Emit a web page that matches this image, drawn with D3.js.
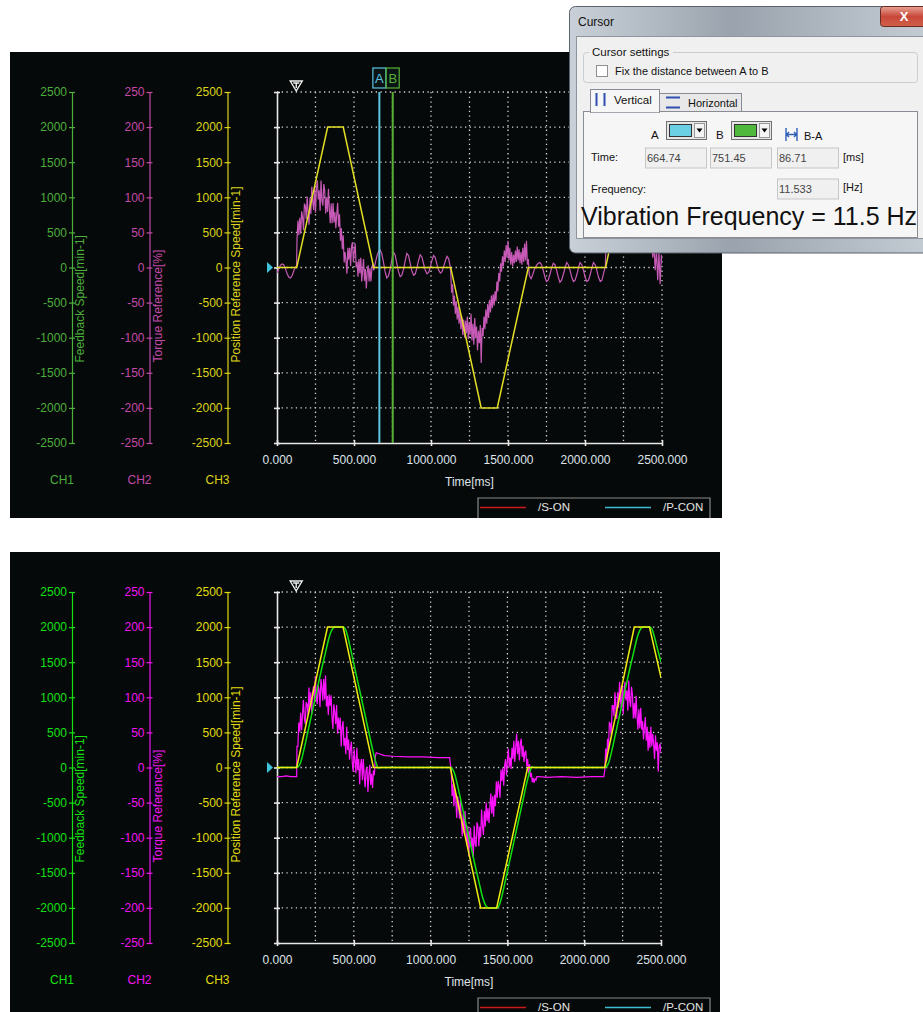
<!DOCTYPE html>
<html>
<head>
<meta charset="utf-8">
<script src="https://cdn.jsdelivr.net/npm/d3@7"></script>
<style>
  body { margin: 0; background: #fff; }
  svg { display: block; }
</style>
</head>
<body>
<div id="chart"></div>
<script>
const width = 923, height = 1012;
const font = "Arial, 'Liberation Sans', sans-serif";

// axes / labels
const timeTicks = [0, 500, 1000, 1500, 2000, 2500];
const timeGrid = [250, 500, 750, 1000, 1250, 1500, 1750, 2000, 2250, 2500];
const speedTicks = [-2500, -2000, -1500, -1000, -500, 0, 500, 1000, 1500, 2000, 2500];
const torqueTicks = [-250, -200, -150, -100, -50, 0, 50, 100, 150, 200, 250];
const channelNames = ["CH1", "CH2", "CH3"];
const channelTitles = ["Feedback Speed[min-1]", "Torque Reference[%]", "Position Reference Speed[min-1]"];
const legendNames = ["/S-ON", "/P-CON"];

// position reference speed (both captures)
const refTime  = [0, 128, 329, 430, 628, 1128, 1326, 1430, 1632, 2134, 2326, 2425, 2500];
const refSpeed = [0, 0, 2000, 2000, 0, 0, -2000, -2000, 0, 0, 2000, 2000, 1280];

// feedback speed (second capture only)
const fbTime  = [0, 128, 140, 155, 175, 200, 230, 260, 290, 320, 340, 355, 370, 385, 432, 445, 460, 480, 510, 540, 570, 600, 625, 640, 652, 660, 672,
  1128, 1140, 1155, 1175, 1200, 1230, 1260, 1290, 1320, 1340, 1355, 1370, 1385, 1432, 1445, 1460, 1480, 1510, 1540, 1570, 1600, 1625, 1640, 1652, 1660, 1672,
  2134, 2146, 2161, 2181, 2206, 2236, 2266, 2296, 2326, 2346, 2361, 2376, 2391, 2428, 2441, 2456, 2476, 2500];
const fbSpeed = [0, 0, 15, 80, 250, 500, 800, 1100, 1400, 1680, 1860, 1950, 1995, 2000, 2000, 1970, 1870, 1680, 1380, 1080, 780, 480, 230, 100, 20, -10, 0,
  0, -15, -80, -250, -500, -800, -1100, -1400, -1680, -1860, -1950, -1995, -2000, -2000, -1970, -1870, -1680, -1380, -1080, -780, -480, -230, -100, -20, 10, 0,
  0, 15, 80, 250, 500, 800, 1100, 1400, 1680, 1860, 1950, 1995, 2000, 2000, 1970, 1870, 1700, 1500];

// torque reference, first capture (with 11.5 Hz vibration)
const torqueTopPre = [[0, -8], [11, -2], [22, 3], [33, 5], [44, 4], [55, -2], [66, -9], [77, -14], [88, -15], [99, -11], [110, -4], [121, 1], [127, 2]];
const torqueTopBurst1 = [41, 67, 46, 71, 48, 80, 72, 53, 91, 88, 69, 101, 79, 61, 99, 76, 115, 93, 82, 116, 78, 114, 124, 97, 110, 81, 124, 95, 88, 119,
  110, 77, 100, 79, 112, 83, 63, 91, 63, 92, 64, 79, 56, 76, 92, 58, 76, 38, 56, 26, 46, 7, 22, 10, -9, 28, 11, 28, 2, 30,
  36, 8, 23, 34, 0, 8, -13, 12, -8, 14, -20, -4, 12, -19, -2, -30, -6, 3, -20, -1, -20, -2, 6];
const torqueTopOsc1 = [[628, -4], [640, 8], [651, 18], [662, 24], [669, 25], [680, 20], [691, 8], [702, -6], [713, -15], [724, -12], [735, -2], [745, 10],
  [756, 22], [767, 18], [778, 6], [789, -6], [800, -13], [811, -11], [822, -2], [832, 9], [843, 20], [854, 17], [865, 6], [876, -5], [887, -11], [898, -9],
  [909, 0], [919, 10], [930, 18], [941, 15], [952, 5], [963, -4], [974, -9], [985, -7], [996, 1], [1006, 10], [1017, 17], [1028, 14], [1039, 4], [1050, -4],
  [1061, -8], [1072, -6], [1083, 2], [1094, 10], [1104, 16], [1115, 12], [1124, 2]];
const torqueTopBurst2 = [-6, -36, -24, -54, -40, -66, -48, -74, -56, -80, -62, -88, -70, -96, -74, -100, -76, -94, -70, -102, -78, -96, -66, -104, -80,
  -110, -72, -100, -84, -118, -90, -108, -82, -136, -86, -98, -70, -88, -60, -80, -52, -72, -46, -64, -40, -58, -38, -54, -34, -48,
  -20, -34, -8, -20, 6, -6, 16, 2, 24, 8, 32, 14, 38, 10, 28, 4, 22, 2, 18, 6, 24, 8, 30, 10, 26, 6, 22, 4, 28, 8, 34, 10, 38, 4, 12, -10, -14];
const torqueTopOsc2 = [[1650, -16], [1661, -10], [1672, -2], [1685, 3], [1696, 6], [1707, 7], [1718, 4], [1729, -4], [1740, -14], [1750, -20], [1761, -18],
  [1772, -10], [1783, -1], [1794, 6], [1805, 4], [1816, -4], [1827, -14], [1837, -21], [1848, -18], [1859, -10], [1870, -1], [1881, 7], [1892, 4],
  [1903, -4], [1914, -14], [1925, -20], [1936, -18], [1947, -10], [1957, -1], [1968, 7], [1979, 4], [1990, -4], [2001, -14], [2012, -20], [2023, -18],
  [2034, -10], [2044, -1], [2055, 7], [2066, 4], [2077, -4], [2088, -14], [2099, -20], [2110, -18], [2121, -8], [2132, 2]];
const torqueTopBurst3 = [30, 56, 48, 74, 62, 88, 74, 98, 82, 106, 90, 112, 94, 118, 98, 114, 96, 110, 90, 104, 84, 96, 76, 88, 66, 80, 58, 72, 50, 62,
  44, 56, 38, 50, 30, 42, 22, 36, 14, 30, -4, 26, -18, 22, -24, 18, 4];

// torque reference, second capture (vibration suppressed)
const torqueBotPre = [[0, -13], [30, -13], [60, -12], [90, -13], [124, -13], [128, -13]];
const torqueBotBurst1 = [30, 30, 64, 51, 78, 53, 76, 96, 70, 62, 93, 90, 74, 114, 87, 107, 77, 107, 116, 92, 130, 101, 90, 117, 110, 86, 126, 114, 95, 126,
  97, 131, 87, 102, 75, 104, 88, 103, 72, 55, 90, 79, 62, 89, 48, 71, 54, 71, 30, 57, 66, 31, 42, 19, 58, 25, 40, 11, 26, 37,
  7, -6, 26, 10, -8, 28, -4, 12, -24, 4, 12, -18, 12, -13, -28, -3, 0, -35, -10, 4, -25, -9, -29, -4, -11, 15];
const torqueBotHold1 = [[646, 21], [660, 20], [700, 17], [760, 16], [850, 15], [950, 15], [1050, 14], [1124, 14]];
const torqueBotBurst2 = [6, -3, -41, -24, -55, -30, -45, -72, -41, -50, -73, -46, -74, -98, -66, -94, -62, -92, -110, -83, -126, -94, -86, -113, -100,
  -128, -83, -109, -113, -78, -84, -112, -84, -99, -60, -83, -96, -62, -84, -50, -76, -58, -79, -56, -37, -66, -41, -70, -39, -55,
  -20, -43, -19, -27, -43, -3, -19, -1, -26, 3, 12, -11, 10, 27, 0, 14, -2, 28, 12, 38, 8, 28, 48, 19, 38, 10, 34, 41, 15, 31,
  8, 21, 24, 2, 12, -8, 5, -14, -8, -21, -15, -22, -16, -18, -13, -13];
const torqueBotHold2 = [[1704, -13], [1760, -14], [1850, -13], [1950, -14], [2050, -13], [2128, -13]];
const torqueBotBurst3 = [-4, 27, 9, 41, 25, 65, 62, 46, 88, 88, 73, 107, 86, 69, 107, 85, 122, 97, 84, 115, 76, 111, 122, 96, 110, 81, 124, 95, 86, 115,
  104, 70, 92, 70, 102, 73, 54, 83, 56, 85, 54, 66, 40, 58, 72, 38, 58, 24, 50, 28, 58, 30, 48, 34, 12, 46, 24, 36, -6, 30, 34, 20];

// cursor readout
const cursorA = 664.74, cursorB = 751.45, cursorDiff = 86.71, cursorFreq = 11.533;
const triggerTime = 125;

function sampled(start, step, values) {
  return values.map((v, i) => [start + i * step, v]);
}

const torqueTop = [].concat(torqueTopPre, sampled(130, 6, torqueTopBurst1), torqueTopOsc1,
  sampled(1128, 6, torqueTopBurst2), torqueTopOsc2, sampled(2136, 8, torqueTopBurst3));
const torqueBottom = [].concat(torqueBotPre, sampled(130, 6, torqueBotBurst1), torqueBotHold1,
  sampled(1128, 6, torqueBotBurst2), torqueBotHold2, sampled(2134, 6, torqueBotBurst3));

const refSeries = refTime.map((t, i) => [t, refSpeed[i]]);
const fbSeries = fbTime.map((t, i) => [t, fbSpeed[i]]);

const panels = [
  { id: "top", bg: [10, 52, 712, 466], x0: 277, x1: 662, y0: 92, y1: 443,
    ch: ["#4cae3c", "#c24aa8", "#dcd41c"], ref: "#e2de26", fb: null, tq: "#c65ab6",
    torque: torqueTop, cursors: true },
  { id: "bot", bg: [10, 552, 710, 460], x0: 277, x1: 661, y0: 592, y1: 943,
    ch: ["#14e014", "#f014f0", "#e0dc10"], ref: "#eeec12", fb: "#12e012", tq: "#ff14ff",
    torque: torqueBottom, cursors: false }
];
const chAxisX = [72, 149.5, 227.5];

const svg = d3.select("#chart").append("svg")
  .attr("width", width)
  .attr("height", height)
  .style("font-family", font);

svg.append("rect").attr("width", width).attr("height", height).attr("fill", "#fff");

function drawPanel(p) {
  const g = svg.append("g");
  g.append("rect")
    .attr("x", p.bg[0]).attr("y", p.bg[1]).attr("width", p.bg[2]).attr("height", p.bg[3])
    .attr("fill", "#060909");

  const x = d3.scaleLinear().domain([0, 2500]).range([p.x0, p.x1]);
  const ySpeed = d3.scaleLinear().domain([-2500, 2500]).range([p.y1, p.y0]);
  const yTorque = d3.scaleLinear().domain([-250, 250]).range([p.y1, p.y0]);
  const scales = [ySpeed, yTorque, ySpeed];
  const tickSets = [speedTicks, torqueTicks, speedTicks];

  // channel axes
  chAxisX.forEach((ax, i) => {
    const a = g.append("g")
      .attr("transform", `translate(${ax},0)`)
      .call(d3.axisLeft(scales[i]).tickValues(tickSets[i]).tickSize(3).tickSizeOuter(0).tickPadding(2)
        .tickFormat(d => String(d)));
    a.select(".domain").attr("stroke", p.ch[i]).attr("stroke-width", 1.2);
    a.selectAll(".tick line").attr("x1", 3).attr("stroke", p.ch[i]).attr("stroke-width", 1.2);
    a.selectAll(".tick text").attr("fill", p.ch[i]).attr("font-size", 12).attr("font-family", font);

    g.append("text")
      .attr("transform", `translate(${ax + 12},${ySpeed(0) + 95})rotate(-90)`)
      .attr("fill", p.ch[i])
      .attr("font-size", 12)
      .text(channelTitles[i]);

    g.append("text")
      .attr("x", ax - 10).attr("y", p.y1 + 41)
      .attr("text-anchor", "middle")
      .attr("fill", p.ch[i])
      .attr("font-size", 12)
      .text(channelNames[i]);
  });

  // dotted grid
  const grid = g.append("g").attr("stroke", "#d4d4d4").attr("stroke-width", 1.3).attr("stroke-dasharray", "1.3,3.4");
  grid.selectAll(".h").data(speedTicks.filter(d => d > -2500)).enter().append("line")
    .attr("x1", p.x0).attr("x2", p.x1)
    .attr("y1", d => ySpeed(d)).attr("y2", d => ySpeed(d));
  grid.selectAll(".v").data(timeGrid).enter().append("line")
    .attr("x1", d => x(d)).attr("x2", d => x(d))
    .attr("y1", p.y0).attr("y2", p.y1);

  // plot axes
  const left = g.append("g")
    .attr("transform", `translate(${p.x0},0)`)
    .call(d3.axisLeft(ySpeed).tickValues(speedTicks).tickSize(3).tickSizeOuter(0).tickFormat(""));
  left.select(".domain").attr("stroke", "#e8e8e8").attr("stroke-width", 1.6);
  left.selectAll(".tick line").attr("x1", 3).attr("stroke", "#e8e8e8").attr("stroke-width", 1.6);

  const bottom = g.append("g")
    .attr("transform", `translate(0,${p.y1})`)
    .call(d3.axisBottom(x).tickValues(timeTicks).tickSize(3).tickSizeOuter(0).tickPadding(9).tickFormat(d3.format(".3f")));
  bottom.select(".domain").attr("stroke", "#e8e8e8").attr("stroke-width", 1.6);
  bottom.selectAll(".tick line").attr("y1", -3).attr("stroke", "#e8e8e8").attr("stroke-width", 1.6);
  bottom.selectAll(".tick text").attr("fill", "#dfe4ea").attr("font-size", 12).attr("font-family", font);

  g.append("text")
    .attr("x", (p.x0 + p.x1) / 2).attr("y", p.y1 + 43)
    .attr("text-anchor", "middle")
    .attr("fill", "#dfe4ea")
    .attr("font-size", 12)
    .text("Time[ms]");

  // traces
  const clipId = "clip-" + p.id;
  g.append("clipPath").attr("id", clipId).append("rect")
    .attr("x", p.x0).attr("y", p.y0 - 2).attr("width", p.x1 - p.x0).attr("height", p.y1 - p.y0 + 4);
  const traces = g.append("g").attr("clip-path", `url(#${clipId})`).attr("fill", "none");

  const torqueLine = d3.line().x(d => x(d[0])).y(d => yTorque(d[1]));
  const speedLine = d3.line().x(d => x(d[0])).y(d => ySpeed(d[1]));

  traces.append("path").attr("d", torqueLine(p.torque)).attr("stroke", p.tq).attr("stroke-width", 1.2);
  if (p.fb) {
    traces.append("path").attr("d", speedLine.curve(d3.curveMonotoneX)(fbSeries)).attr("stroke", p.fb).attr("stroke-width", 1.5);
    speedLine.curve(d3.curveLinear);
  }
  traces.append("path").attr("d", speedLine(refSeries)).attr("stroke", p.ref).attr("stroke-width", 1.5);

  // trigger marker and zero marker
  const tx = x(triggerTime);
  g.append("path")
    .attr("d", `M${tx - 6},${p.y0 - 11}H${tx + 6}L${tx},${p.y0 - 1}Z`)
    .attr("fill", "#060909").attr("stroke", "#f0f0f0").attr("stroke-width", 1.4);
  g.append("path")
    .attr("d", `M${tx - 3},${p.y0 - 9}H${tx + 3}M${tx},${p.y0 - 9}V${p.y0 - 4}`)
    .attr("stroke", "#f0f0f0").attr("stroke-width", 1.4);
  g.append("path")
    .attr("d", `M${p.x0 - 10},${ySpeed(0) - 5.5}L${p.x0 - 4},${ySpeed(0)}L${p.x0 - 10},${ySpeed(0) + 5.5}Z`)
    .attr("fill", "#3ec4dc");

  // cursors
  if (p.cursors) {
    [[cursorA, "A", "#5ec4e0"], [cursorB, "B", "#56b034"]].forEach(([t, name, col]) => {
      const cx = x(t);
      g.append("line")
        .attr("x1", cx).attr("x2", cx).attr("y1", p.y0).attr("y2", p.y1)
        .attr("stroke", col).attr("stroke-width", 2);
      g.append("rect")
        .attr("x", cx - 6.5).attr("y", p.y0 - 24).attr("width", 13).attr("height", 20)
        .attr("fill", "#0b1414").attr("stroke", col).attr("stroke-width", 1.2);
      g.append("text")
        .attr("x", cx).attr("y", p.y0 - 9)
        .attr("text-anchor", "middle")
        .attr("fill", col)
        .attr("font-size", 13)
        .text(name);
    });
  }

  // legend strip (cut by panel edge)
  const ly = p.y1 + 55;
  const lb = p.bg[1] + p.bg[3];
  g.append("path")
    .attr("d", `M478,${lb}V${ly}H710V${lb}`)
    .attr("fill", "#060909").attr("stroke", "#8a8a8a").attr("stroke-width", 1.2);
  const legendColors = ["#c81a1a", "#3ebcd4"];
  const legendX = [480, 605];
  legendNames.forEach((name, i) => {
    g.append("line")
      .attr("x1", legendX[i]).attr("x2", legendX[i] + 46)
      .attr("y1", ly + 9.5).attr("y2", ly + 9.5)
      .attr("stroke", legendColors[i]).attr("stroke-width", 1.4);
    g.append("text")
      .attr("x", legendX[i] + 58).attr("y", ly + 12.5)
      .attr("fill", "#e4e4e4")
      .attr("font-size", 11.5)
      .text(name);
  });
}

panels.forEach(drawPanel);

// Cursor dialog
const dlg = svg.append("g");
const frameGrad = svg.append("defs").append("linearGradient")
  .attr("id", "frameGrad").attr("x1", 0).attr("y1", 0).attr("x2", 1).attr("y2", 0);
frameGrad.append("stop").attr("offset", "0%").attr("stop-color", "#c9d0d8");
frameGrad.append("stop").attr("offset", "45%").attr("stop-color", "#9aa3ad");
frameGrad.append("stop").attr("offset", "100%").attr("stop-color", "#c4ccd4");

dlg.append("rect")
  .attr("x", 569.5).attr("y", 6.5).attr("width", 362).attr("height", 246.5).attr("rx", 6)
  .attr("fill", "url(#frameGrad)").attr("stroke", "#5b636c");
dlg.append("text").attr("x", 578).attr("y", 25.5).attr("font-size", 12).attr("fill", "#111").text("Cursor");

const closeGrad = svg.select("defs").append("linearGradient")
  .attr("id", "closeGrad").attr("x1", 0).attr("y1", 0).attr("x2", 0).attr("y2", 1);
closeGrad.append("stop").attr("offset", "0%").attr("stop-color", "#e8a496");
closeGrad.append("stop").attr("offset", "50%").attr("stop-color", "#c8483a");
closeGrad.append("stop").attr("offset", "100%").attr("stop-color", "#d0604a");
dlg.append("rect")
  .attr("x", 880.5).attr("y", 6.5).attr("width", 48).attr("height", 20).attr("rx", 3)
  .attr("fill", "url(#closeGrad)").attr("stroke", "#6a2a22");
dlg.append("text").attr("x", 904).attr("y", 21).attr("text-anchor", "middle")
  .attr("font-size", 13).attr("font-weight", "bold").attr("fill", "#fff").text("X");

dlg.append("rect")
  .attr("x", 576.5).attr("y", 36.5).attr("width", 350).attr("height", 202)
  .attr("fill", "#f0f0f0").attr("stroke", "#8d949b");

// group box
dlg.append("rect")
  .attr("x", 583.5).attr("y", 52.5).attr("width", 334).attr("height", 30).attr("rx", 3)
  .attr("fill", "none").attr("stroke", "#c8cdd2");
dlg.append("rect").attr("x", 589).attr("y", 45).attr("width", 84).attr("height", 14).attr("fill", "#f0f0f0");
dlg.append("text").attr("x", 592).attr("y", 56).attr("font-size", 11.5).attr("fill", "#111").text("Cursor settings");
dlg.append("rect")
  .attr("x", 596.5).attr("y", 65.5).attr("width", 11).attr("height", 11)
  .attr("fill", "#fff").attr("stroke", "#8e8f8f");
dlg.append("text").attr("x", 615).attr("y", 74.5).attr("font-size", 11).attr("fill", "#111")
  .text("Fix the distance between A to B");

// tabs
dlg.append("rect")
  .attr("x", 583.5).attr("y", 111.5).attr("width", 334).attr("height", 126)
  .attr("fill", "#f6f6f6").attr("stroke", "#898c95");
dlg.append("rect")
  .attr("x", 659.5).attr("y", 93.5).attr("width", 82).attr("height", 18)
  .attr("fill", "#e8e8e8").attr("stroke", "#898c95");
dlg.append("rect")
  .attr("x", 590.5).attr("y", 89.5).attr("width", 69).attr("height", 23)
  .attr("fill", "#f6f6f6").attr("stroke", "#898c95");
dlg.append("line").attr("x1", 591).attr("x2", 659).attr("y1", 111.5).attr("y2", 111.5)
  .attr("stroke", "#f6f6f6").attr("stroke-width", 1.5);
dlg.append("path").attr("d", "M596.5,93V106M604.5,93V106").attr("stroke", "#2f4fb0").attr("stroke-width", 2);
dlg.append("text").attr("x", 614).attr("y", 104).attr("font-size", 11.5).attr("fill", "#111").text("Vertical");
dlg.append("path").attr("d", "M666,97.5H680M666,107.5H680").attr("stroke", "#2f4fb0").attr("stroke-width", 2);
dlg.append("text").attr("x", 688).attr("y", 106.5).attr("font-size", 11).attr("fill", "#111").text("Horizontal");

// colour pickers
function picker(px, colour, label) {
  dlg.append("text").attr("x", px - 15).attr("y", 138.5).attr("font-size", 11.5).attr("fill", "#111").text(label);
  dlg.append("rect").attr("x", px + 0.5).attr("y", 121.5).attr("width", 40).attr("height", 18)
    .attr("fill", "#e6e6e6").attr("stroke", "#707070");
  dlg.append("rect").attr("x", px + 3.5).attr("y", 124.5).attr("width", 22).attr("height", 12)
    .attr("fill", colour).attr("stroke", "#333");
  dlg.append("rect").attr("x", px + 28.5).attr("y", 123.5).attr("width", 10).attr("height", 14)
    .attr("fill", "#f4f4f4").attr("stroke", "#999");
  dlg.append("path").attr("d", `M${px + 30.5},${128.5}H${px + 36.5}L${px + 33.5},${132.5}Z`).attr("fill", "#000");
}
picker(666, "#6cd0e4", "A");
picker(731, "#50b83c", "B");
dlg.append("path").attr("d", "M786,128V141M797,128V141M787,134.5H796M789,132L786.5,134.5L789,137M794,132L796.5,134.5L794,137")
  .attr("stroke", "#2f5fb8").attr("stroke-width", 1.4).attr("fill", "none");
dlg.append("text").attr("x", 804).attr("y", 139.5).attr("font-size", 11).attr("fill", "#111").text("B-A");

// readouts
function field(fx, fy, value) {
  dlg.append("rect").attr("x", fx + 0.5).attr("y", fy + 0.5).attr("width", 61).attr("height", 20)
    .attr("fill", "#f0f0f0").attr("stroke", "#c6c6c6");
  dlg.append("text").attr("x", fx + 2).attr("y", fy + 14.5).attr("font-size", 11).attr("fill", "#444").text(value);
}
dlg.append("text").attr("x", 591).attr("y", 161).attr("font-size", 11).attr("fill", "#111").text("Time:");
field(645, 147.5, cursorA.toFixed(2));
field(710, 147.5, cursorB.toFixed(2));
field(777, 147.5, cursorDiff.toFixed(2));
dlg.append("text").attr("x", 843).attr("y", 161).attr("font-size", 11).attr("fill", "#111").text("[ms]");
dlg.append("text").attr("x", 591).attr("y", 193).attr("font-size", 11).attr("fill", "#111").text("Frequency:");
field(777, 178.5, cursorFreq.toFixed(3));
dlg.append("text").attr("x", 843).attr("y", 191).attr("font-size", 11).attr("fill", "#111").text("[Hz]");

dlg.append("text").attr("x", 581).attr("y", 225).attr("font-size", 25).attr("fill", "#111")
  .text("Vibration Frequency = " + cursorFreq.toFixed(1) + " Hz");
</script>
</body>
</html>
